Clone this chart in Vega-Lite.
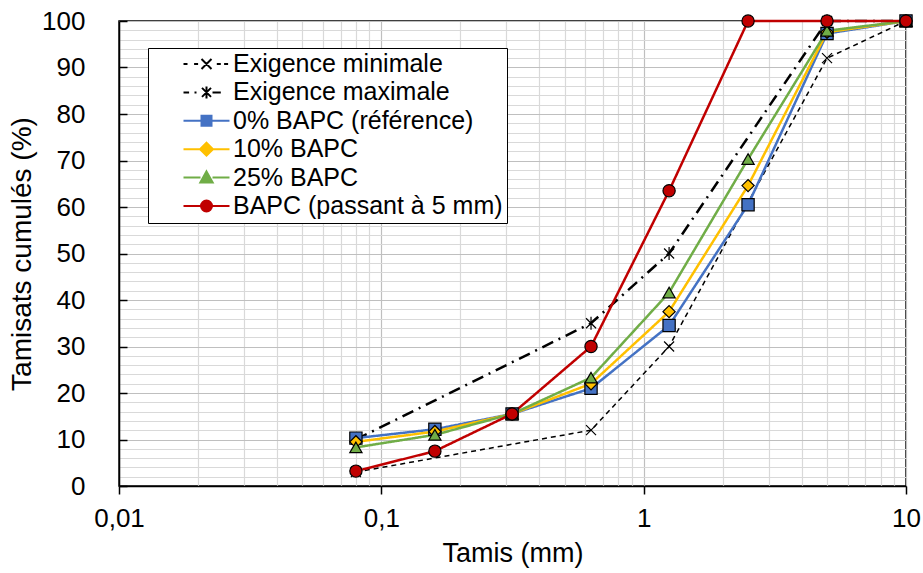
{
  "$schema": "https://vega.github.io/schema/vega-lite/v6.json",
  "width": 787,
  "height": 465,
  "autosize": "none",
  "padding": {"left": 119, "top": 21, "right": 17, "bottom": 87},
  "background": "white",
  "config": {
    "view": {"stroke": "black", "strokeWidth": 1.5},
    "font": "Liberation Sans"
  },
  "data": {
    "values": [
      {"series": "Exigence minimale", "x": 0.08, "y": 3},
      {"series": "Exigence minimale", "x": 0.63, "y": 12},
      {"series": "Exigence minimale", "x": 1.25, "y": 30},
      {"series": "Exigence minimale", "x": 5, "y": 92},
      {"series": "Exigence minimale", "x": 10, "y": 100},
      {"series": "Exigence maximale", "x": 0.08, "y": 10},
      {"series": "Exigence maximale", "x": 0.63, "y": 35},
      {"series": "Exigence maximale", "x": 1.25, "y": 50},
      {"series": "Exigence maximale", "x": 5, "y": 100},
      {"series": "Exigence maximale", "x": 10, "y": 100},
      {"series": "0% BAPC (référence)", "x": 0.08, "y": 10.3},
      {"series": "0% BAPC (référence)", "x": 0.16, "y": 12.2},
      {"series": "0% BAPC (référence)", "x": 0.315, "y": 15.5},
      {"series": "0% BAPC (référence)", "x": 0.63, "y": 21},
      {"series": "0% BAPC (référence)", "x": 1.25, "y": 34.5},
      {"series": "0% BAPC (référence)", "x": 2.5, "y": 60.5},
      {"series": "0% BAPC (référence)", "x": 5, "y": 97.3},
      {"series": "0% BAPC (référence)", "x": 10, "y": 100},
      {"series": "10% BAPC", "x": 0.08, "y": 9.5},
      {"series": "10% BAPC", "x": 0.16, "y": 11.7},
      {"series": "10% BAPC", "x": 0.315, "y": 15.5},
      {"series": "10% BAPC", "x": 0.63, "y": 22},
      {"series": "10% BAPC", "x": 1.25, "y": 37.5},
      {"series": "10% BAPC", "x": 2.5, "y": 64.6},
      {"series": "10% BAPC", "x": 5, "y": 97.6},
      {"series": "10% BAPC", "x": 10, "y": 100},
      {"series": "25% BAPC", "x": 0.08, "y": 8.3},
      {"series": "25% BAPC", "x": 0.16, "y": 11},
      {"series": "25% BAPC", "x": 0.315, "y": 15.5},
      {"series": "25% BAPC", "x": 0.63, "y": 23.3},
      {"series": "25% BAPC", "x": 1.25, "y": 41.6},
      {"series": "25% BAPC", "x": 2.5, "y": 70.3},
      {"series": "25% BAPC", "x": 5, "y": 97.9},
      {"series": "25% BAPC", "x": 10, "y": 100},
      {"series": "BAPC (passant à 5 mm)", "x": 0.08, "y": 3.2},
      {"series": "BAPC (passant à 5 mm)", "x": 0.16, "y": 7.5},
      {"series": "BAPC (passant à 5 mm)", "x": 0.315, "y": 15.5},
      {"series": "BAPC (passant à 5 mm)", "x": 0.63, "y": 30},
      {"series": "BAPC (passant à 5 mm)", "x": 1.25, "y": 63.5},
      {"series": "BAPC (passant à 5 mm)", "x": 2.5, "y": 100},
      {"series": "BAPC (passant à 5 mm)", "x": 5, "y": 100},
      {"series": "BAPC (passant à 5 mm)", "x": 10, "y": 100}
    ]
  },
  "encoding": {
    "x": {
      "field": "x", "type": "quantitative",
      "scale": {"type": "log", "domain": [0.01, 10], "nice": false},
      "axis": {
        "title": "Tamis (mm)",
        "values": [0.01,0.02,0.03,0.04,0.05,0.06,0.07,0.08,0.09,0.1,0.2,0.3,0.4,0.5,0.6,0.7,0.8,0.9,1,2,3,4,5,6,7,8,9,10],
        "labelExpr": "(datum.value==0.01||datum.value==0.1||datum.value==1||datum.value==10) ? replace(toString(datum.value),'.',',') : ''",
        "tickColor": "black",
        "tickOpacity": {"condition": {"test": "datum.value==0.01||datum.value==0.1||datum.value==1||datum.value==10", "value": 1}, "value": 0},
        "tickSize": 8, "tickWidth": 1.5,
        "grid": true,
        "gridColor": {"condition": {"test": "datum.value==0.01||datum.value==0.1||datum.value==1||datum.value==10", "value": "#bfbfbf"}, "value": "#d9d9d9"},
        "gridWidth": 1.2,
        "domainColor": "black", "domainWidth": 1.5,
        "labelFont": "Liberation Sans", "labelFontSize": 26, "labelColor": "black", "labelPadding": 11,
        "labelFlush": false, "labelOverlap": false, "labelBound": false,
        "titleFont": "Liberation Sans", "titleFontSize": 27, "titleFontWeight": "normal", "titleColor": "black", "titlePadding": 9
      }
    },
    "y": {
      "field": "y", "type": "quantitative",
      "scale": {"domain": [0, 100], "nice": false},
      "axis": {
        "title": "Tamisats cumulés (%)",
        "values": [0,2,4,6,8,10,12,14,16,18,20,22,24,26,28,30,32,34,36,38,40,42,44,46,48,50,52,54,56,58,60,62,64,66,68,70,72,74,76,78,80,82,84,86,88,90,92,94,96,98,100],
        "labelExpr": "datum.value % 10 == 0 ? datum.label : ''",
        "tickColor": "black",
        "tickOpacity": {"condition": {"test": "datum.value % 10 == 0", "value": 1}, "value": 0},
        "tickSize": -8, "tickWidth": 1.5,
        "grid": true,
        "gridColor": {"condition": {"test": "datum.value % 10 == 0", "value": "#bfbfbf"}, "value": "#d9d9d9"},
        "gridWidth": 1.2,
        "domainColor": "black", "domainWidth": 1.5,
        "labelFont": "Liberation Sans", "labelFontSize": 26, "labelColor": "black", "labelPadding": 42,
        "labelOverlap": false, "labelFlush": false, "labelBound": false,
        "titleFont": "Liberation Sans", "titleFontSize": 28, "titleFontWeight": "normal", "titleColor": "black", "titlePadding": 5
      }
    }
  },
  "layer": [
    {
      "mark": {"type": "line", "clip": false},
      "encoding": {
        "color": {
          "field": "series", "type": "nominal",
          "scale": {
            "domain": ["Exigence minimale", "Exigence maximale", "0% BAPC (référence)", "10% BAPC", "25% BAPC", "BAPC (passant à 5 mm)"],
            "range": ["#000000", "#000000", "#4472c4", "#ffc000", "#70ad47", "#c00000"]
          },
          "legend": {
            "title": null,
            "orient": "none",
            "legendX": 29,
            "legendY": 27,
            "strokeColor": "black",
            "fillColor": "white",
            "padding": 4,
            "rowPadding": 3.4,
            "clipHeight": 24,
            "labelFont": "Liberation Sans",
            "labelFontSize": 25,
            "labelColor": "black",
            "labelLimit": 500,
            "labelOffset": 14,
            "symbolOffset": 42,
            "symbolSize": 400,
            "symbolStrokeWidth": 2,
            "encode": {
              "symbols": {
                "update": {
                  "shape": {"signal": "datum.value === 'Exigence minimale' ? 'M-5.4,0M-2.3,0H-1.9M-1.24,0H-0.84M1.03,0H1.43M1.76,0H2.16M-0.5,-0.5L0.5,0.5M-0.5,0.5L0.5,-0.5' : datum.value === 'Exigence maximale' ? 'M-5.4,0M-2.3,0H-1.74M-1.2,0H-1.0M0.6,0H1.43M-0.45,-0.45L0.45,0.45M-0.45,0.45L0.45,-0.45M0,-0.6L0,0.6' : datum.value === '0% BAPC (référence)' ? 'M-5.4,0M-2.3,0H-0.5M0.5,0H2.3M-0.5,-0.5H0.5V0.5H-0.5Z' : datum.value === '10% BAPC' ? 'M-5.4,0M-2.3,0H-0.65M0.65,0H2.3M0,-0.65L0.65,0L0,0.65L-0.65,0Z' : datum.value === '25% BAPC' ? 'M-5.4,0M-2.3,0H-0.6M0.6,0H2.3M0,-0.62L0.62,0.5L-0.62,0.5Z' : 'M-5.4,0M-2.3,0H-0.55M0.55,0H2.3M0.55,0A0.55,0.55 0 1 1 -0.55,0A0.55,0.55 0 1 1 0.55,0Z'"},
                  "fill": {"signal": "scale('color', datum.value)"},
                  "strokeDash": {"value": []},
                  "opacity": {"value": 1},
                  "fillOpacity": {"value": 1},
                  "strokeOpacity": {"value": 1}
                }
              }
            }
          }
        },
        "strokeDash": {
          "condition": [
            {"test": "datum.series === 'Exigence minimale'", "value": [5, 4]},
            {"test": "datum.series === 'Exigence maximale'", "value": [12, 6, 2, 6]}
          ],
          "value": [1, 0]
        },
        "strokeWidth": {
          "condition": {"test": "datum.series === 'Exigence minimale'", "value": 1.5},
          "value": 2.5
        }
      }
    },
    {
      "mark": {"type": "point", "filled": true, "clip": false, "stroke": "black", "strokeWidth": 1.2, "opacity": 1},
      "encoding": {
        "shape": {
          "condition": [
            {"test": "datum.series === 'Exigence minimale'", "value": "M-1,-1L1,1M-1,1L1,-1"},
            {"test": "datum.series === 'Exigence maximale'", "value": "M-1,-1L1,1M-1,1L1,-1M0,-1.3L0,1.3"},
            {"test": "datum.series === '0% BAPC (référence)'", "value": "square"},
            {"test": "datum.series === '10% BAPC'", "value": "diamond"},
            {"test": "datum.series === '25% BAPC'", "value": "triangle-up"}
          ],
          "value": "circle"
        },
        "fill": {
          "condition": [
            {"test": "indexof(['Exigence minimale','Exigence maximale'], datum.series) >= 0", "value": "transparent"},
            {"test": "datum.series === '0% BAPC (référence)'", "value": "#4472c4"},
            {"test": "datum.series === '10% BAPC'", "value": "#ffc000"},
            {"test": "datum.series === '25% BAPC'", "value": "#70ad47"}
          ],
          "value": "#c00000"
        },
        "size": {
          "condition": {"test": "indexof(['Exigence minimale','Exigence maximale'], datum.series) >= 0", "value": 100},
          "value": 150
        }
      }
    }
  ]
}
